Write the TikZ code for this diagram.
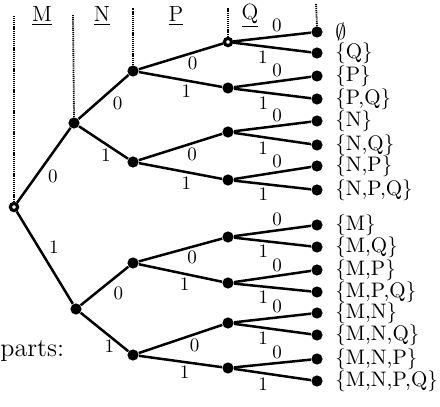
\documentclass[tikz,border=0pt]{standalone}
\usepackage{amssymb}
\begin{document}
\begin{tikzpicture}[x=0.5pt,y=-0.5pt,
  dot/.style={circle,fill,inner sep=0pt,minimum size=5.6pt},
  hollow/.style={circle,draw,fill=white,line width=1.6pt,inner sep=0pt,minimum size=3.6pt},
  guide/.style={line width=0.9pt,dash pattern=on 0.6pt off 0.45pt},
  branch/.style={line width=1.25pt},
  bit/.style={font=\fontsize{9.5}{10}\selectfont,inner sep=1.5pt},
  setname/.style={font=\fontsize{10.5}{12}\selectfont,anchor=west,inner sep=0pt},
  vname/.style={font=\fontsize{11}{12}\selectfont,inner sep=0pt}]
 \useasboundingbox (0,0) rectangle (440,407);
 % variables
 \node[vname] (M) at (42,16) {\underline{M}};
 \node[vname] (N) at (102,16) {\underline{N}};
 \node[vname] (P) at (176,16) {\underline{P}};
 \node[vname] (Q) at (250,16) {\underline{Q}};
 \node[anchor=base west,inner sep=0pt,font=\fontsize{13}{15}\selectfont] (parts) at (0,356) {parts:};
 % tree
 \node[hollow] (r) at (14,207) {};
 \node[dot] (a) at (74,123) {};
 \node[dot] (b) at (76,309) {};
 \node[dot] (a0) at (133,71) {};
 \node[dot] (a1) at (133,162) {};
 \node[dot] (b0) at (133,263) {};
 \node[dot] (b1) at (133,355) {};
 \node[hollow] (c0) at (228,42) {};
 \node[dot] (c1) at (228,88) {};
 \node[dot] (c2) at (228,132) {};
 \node[dot] (c3) at (228,180) {};
 \node[dot] (c4) at (228,237) {};
 \node[dot] (c5) at (228,283) {};
 \node[dot] (c6) at (228,323) {};
 \node[dot] (c7) at (228,368) {};
 \foreach \y/\s [count=\i from 0] in {32/$\emptyset$, 53/\{Q\}, 76/\{P\},
   99/{\{P,Q\}}, 121/\{N\}, 145/{\{N,Q\}}, 166/{\{N,P\}}, 190/{\{N,P,Q\}},
   225/\{M\}, 247/{\{M,Q\}}, 270/{\{M,P\}}, 292/{\{M,P,Q\}},
   313/{\{M,N\}}, 335/{\{M,N,Q\}}, 359/{\{M,N,P\}}, 381/{\{M,N,P,Q\}}} {
   \node[dot] (l\i) at (317,\y) {};
   \node[setname] (s\i) at (335,\y) {\s};
 }
 % guides
 \coordinate (rtop) at (14,15);
 \coordinate (atop) at (73,15);
 \coordinate (a0top) at (133,8);
 \coordinate (c0top) at (228,8);
 \coordinate (l0top) at (316,3);
 \draw[guide] (r.north) -- (rtop);
 \draw[guide] (a.north) -- (atop);
 \draw[guide] (a0.north) -- (a0top);
 \draw[guide] (c0.north) -- (c0top);
 \draw[guide] (l0.north) -- (l0top);
 % branches
 \draw[branch] (r) -- (a) node[bit,midway,below right] {0};
 \draw[branch] (r) -- (b) node[bit,midway,above right] {1};
 \draw[branch] (a) -- (a0) node[bit,pos=.6,below right] {0};
 \draw[branch] (a) -- (a1) node[bit,pos=.55,below] {1};
 \draw[branch] (b) -- (b0) node[bit,pos=.6,below right] {0};
 \draw[branch] (b) -- (b1) node[bit,pos=.6,below] {1};
 \draw[branch] (a0) -- (c0) node[bit,pos=.64,below] {0};
 \draw[branch] (a0) -- (c1) node[bit,pos=.57,below] {1};
 \draw[branch] (a1) -- (c2) node[bit,pos=.64,below] {0};
 \draw[branch] (a1) -- (c3) node[bit,pos=.57,below] {1};
 \draw[branch] (b0) -- (c4) node[bit,pos=.64,below] {0};
 \draw[branch] (b0) -- (c5) node[bit,pos=.55,below] {1};
 \draw[branch] (b1) -- (c6) node[bit,pos=.67,below] {0};
 \draw[branch] (b1) -- (c7) node[bit,pos=.55,below] {1};
 \foreach \k [evaluate=\k as \u using {int(2*\k)},
   evaluate=\k as \v using {int(2*\k+1)}] in {0,...,7} {
   \draw[branch] (c\k) -- (l\u) node[bit,pos=.56,above] {0};
   \draw[branch] (c\k) -- (l\v) node[bit,pos=.38,below] {1};
 }
\end{tikzpicture}
\end{document}
